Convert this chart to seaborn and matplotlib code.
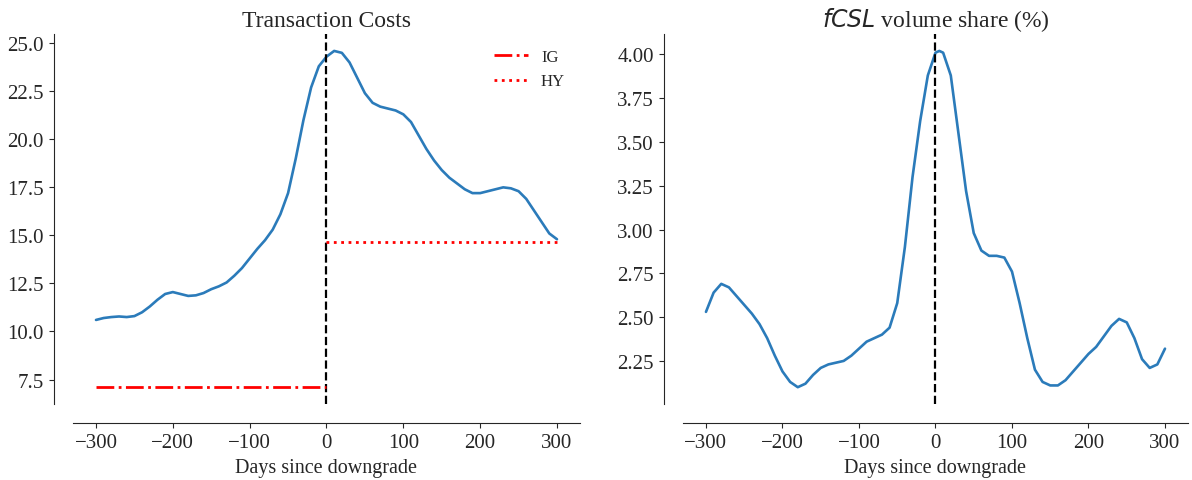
import matplotlib
matplotlib.use("Agg")
import matplotlib.pyplot as plt
import seaborn as sns
import pandas as pd

# Transaction costs around downgrade (smoothed)
tc_days = [-300, -290, -280, -270, -260, -250, -240, -230, -220, -210, -200, -190,
           -180, -170, -160, -150, -140, -130, -120, -110, -100, -90, -80, -70,
           -60, -50, -40, -30, -20, -10, 0, 10, 20, 30, 40, 50, 60, 70, 80, 90,
           100, 110, 120, 130, 140, 150, 160, 170, 180, 190, 200, 210, 220, 230,
           240, 250, 260, 270, 280, 290, 300]
tc_vals = [10.6, 10.7, 10.75, 10.78, 10.75, 10.8, 11.0, 11.3, 11.65, 11.95, 12.05, 11.95,
           11.85, 11.88, 12.0, 12.2, 12.35, 12.55, 12.9, 13.3, 13.8, 14.3, 14.75, 15.3,
           16.1, 17.2, 19.0, 21.0, 22.7, 23.8, 24.3, 24.6, 24.5, 24.0, 23.2, 22.4, 21.9, 21.7, 21.6, 21.5,
           21.3, 20.9, 20.2, 19.5, 18.9, 18.4, 18.0, 17.7, 17.4, 17.2, 17.2, 17.3, 17.4, 17.5,
           17.45, 17.3, 16.9, 16.3, 15.7, 15.1, 14.8]
ig_level = 7.1
hy_level = 14.65

# fCSL volume share around downgrade
vs_days = [-300, -290, -280, -270, -260, -250, -240, -230, -220, -210, -200, -190,
           -180, -170, -160, -150, -140, -130, -120, -110, -100, -90, -80, -70,
           -60, -50, -40, -30, -20, -10, 0, 5, 10, 20, 30, 40, 50, 60, 70, 80, 90,
           100, 110, 120, 130, 140, 150, 160, 170, 180, 190, 200, 210, 220, 230,
           240, 250, 260, 270, 280, 290, 300]
vs_vals = [2.53, 2.64, 2.69, 2.67, 2.62, 2.57, 2.52, 2.46, 2.38, 2.28, 2.19, 2.13,
           2.10, 2.12, 2.17, 2.21, 2.23, 2.24, 2.25, 2.28, 2.32, 2.36, 2.38, 2.40,
           2.44, 2.58, 2.90, 3.30, 3.62, 3.88, 4.01, 4.02, 4.01, 3.88, 3.55, 3.22, 2.98, 2.88, 2.85, 2.85, 2.84,
           2.76, 2.58, 2.38, 2.20, 2.13, 2.11, 2.11, 2.14, 2.19, 2.24, 2.29, 2.33, 2.39, 2.45,
           2.49, 2.47, 2.38, 2.26, 2.21, 2.23, 2.32]

sns.set_style("ticks")
plt.rcParams["font.family"] = ["Liberation Serif", "DejaVu Serif"]
plt.rcParams["mathtext.fontset"] = "dejavusans"

fig = plt.figure(figsize=(11.92, 4.81), dpi=100)
ax1 = fig.add_axes([0.0612, 0.158, 0.4254, 0.769])
ax2 = fig.add_axes([0.573, 0.158, 0.4236, 0.769])

blue = "#2b7bba"
tc_df = pd.DataFrame({"days": tc_days, "tc": tc_vals})
sns.lineplot(data=tc_df, x="days", y="tc", ax=ax1, color=blue, lw=1.9)
ax1.axvline(0, color="black", ls="--", lw=1.6)
ax1.plot([-300, 0], [ig_level, ig_level], color="red", ls="-.", lw=2, label="IG")
ax1.plot([0, 300], [hy_level, hy_level], color="red", ls=":", lw=2, label="HY")
ax1.legend(frameon=False, loc="upper right", fontsize=12)
ax1.set_title("Transaction Costs", fontsize=17)

vs_df = pd.DataFrame({"days": vs_days, "vs": vs_vals})
sns.lineplot(data=vs_df, x="days", y="vs", ax=ax2, color=blue, lw=1.9)
ax2.axvline(0, color="black", ls="--", lw=1.6)
ax2.set_yticks([2.25, 2.50, 2.75, 3.00, 3.25, 3.50, 3.75, 4.00])
ax2.set_title("$fCSL$ volume share (%)", fontsize=17)

for ax in (ax1, ax2):
    ax.set_xticks([-300, -200, -100, 0, 100, 200, 300])
    ax.set_xlabel("Days since downgrade", fontsize=14.5)
    ax.set_ylabel("")
    ax.tick_params(labelsize=15)
    sns.despine(ax=ax, offset=14)

fig.savefig("out.png", dpi=100)
